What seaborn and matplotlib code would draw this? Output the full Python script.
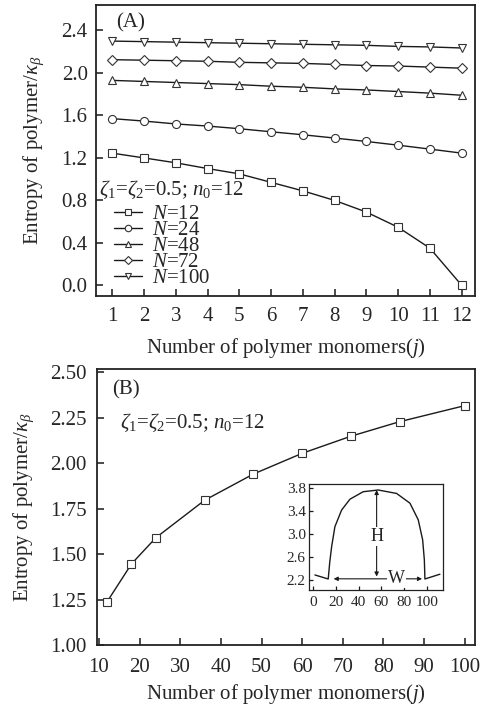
import numpy as np
import pandas as pd
import matplotlib
matplotlib.use("Agg")
import matplotlib.pyplot as plt
import seaborn as sns

# ---------------- data ----------------
j_vals = [1, 2, 3, 4, 5, 6, 7, 8, 9, 10, 11, 12]
S_N12 = [1.245, 1.20, 1.154, 1.10, 1.05, 0.97, 0.89, 0.80, 0.69, 0.547, 0.35, 0.0]
S_N24 = [1.57, 1.547, 1.52, 1.50, 1.475, 1.446, 1.418, 1.387, 1.355, 1.32, 1.283, 1.245]
S_N48 = [1.93, 1.92, 1.91, 1.90, 1.89, 1.875, 1.865, 1.85, 1.84, 1.825, 1.81, 1.79]
S_N72 = [2.125, 2.12, 2.115, 2.11, 2.10, 2.095, 2.09, 2.08, 2.07, 2.065, 2.055, 2.045]
S_N100 = [2.30, 2.295, 2.29, 2.285, 2.28, 2.275, 2.27, 2.265, 2.26, 2.25, 2.245, 2.235]
series_labels = ["12", "24", "48", "72", "100"]
series_markers = ["s", "o", "^", "D", "v"]

N_vals = [12, 18, 24, 36, 48, 60, 72, 84, 100]
S_vals = [1.238, 1.446, 1.59, 1.796, 1.94, 2.054, 2.148, 2.228, 2.316]

inset_x = [1.5, 13.2, 14.5, 16.2, 19.1, 25.0, 32.4, 44.1, 57.3, 73.5, 85.3, 92.6, 96.5, 98.0, 98.5, 111.7]
inset_y = [2.287, 2.217, 2.50, 2.78, 3.13, 3.42, 3.61, 3.74, 3.77, 3.71, 3.54, 3.25, 2.90, 2.55, 2.217, 2.30]

A_yticks = [0.0, 0.4, 0.8, 1.2, 1.6, 2.0, 2.4]
B_xticks = [10, 20, 30, 40, 50, 60, 70, 80, 90, 100]
B_yticks = [1.00, 1.25, 1.50, 1.75, 2.00, 2.25, 2.50]
inset_xticks = [0, 20, 40, 60, 80, 100]
inset_yticks = [2.2, 2.6, 3.0, 3.4, 3.8]

# ---------------- style ----------------
sns.set_style("ticks")
plt.rcParams["font.family"] = ["Liberation Serif", "DejaVu Serif"]
plt.rcParams["mathtext.fontset"] = "custom"
plt.rcParams["mathtext.rm"] = "Liberation Serif"
plt.rcParams["mathtext.it"] = "Liberation Serif:italic"
plt.rcParams["mathtext.bf"] = "Liberation Serif:bold"
plt.rcParams["xtick.direction"] = "in"
plt.rcParams["ytick.direction"] = "in"
plt.rcParams["axes.linewidth"] = 1.3
plt.rcParams["axes.edgecolor"] = "#222222"

FS = 15
INK = "#1a1a1a"

fig = plt.figure(figsize=(4.86, 7.11), dpi=100)
axA = fig.add_axes([0.1975, 0.5837, 0.780, 0.4093])
axB = fig.add_axes([0.199, 0.0928, 0.778, 0.3878])
axI = fig.add_axes([0.6364, 0.1702, 0.2757, 0.1491])

# ---------------- panel A ----------------
seriesA = [S_N12, S_N24, S_N48, S_N72, S_N100]
for vals, lab, mk in zip(seriesA, series_labels, series_markers):
    sns.lineplot(x=j_vals, y=vals, ax=axA, color=INK, linewidth=1.0,
                 marker=mk, markersize=5.8 if mk != "D" else 4.8,
                 markerfacecolor="white", markeredgecolor="#333333",
                 markeredgewidth=0.8, label=r"$N$=" + lab)
axA.set_xlim(0.49, 12.42)
axA.set_ylim(-0.1, 2.64)
axA.set_xticks(j_vals)
axA.set_yticks(A_yticks)
axA.set_yticklabels([f"{v:.1f}" for v in A_yticks])
axA.tick_params(labelsize=FS, length=5, width=1.1, color=INK, pad=6)
axA.tick_params(axis="x", pad=8)
axA.set_xlabel("Number of polymer monomers($j$)", fontsize=FS, labelpad=7)
axA.set_ylabel(r"Entropy of polymer/$\kappa_\beta$", fontsize=FS, labelpad=11)
axA.text(0.053, 0.938, "(A)", transform=axA.transAxes, fontsize=FS,
         ha="left", va="center")
axA.text(0.008, 0.366, r"$\zeta_1$=$\zeta_2$=0.5; $n_0$=12", transform=axA.transAxes,
         fontsize=FS, ha="left", va="center")
axA.legend(loc="upper left", bbox_to_anchor=(0.048, 0.313), frameon=False,
           fontsize=FS, borderpad=0, borderaxespad=0, labelspacing=-0.18,
           handlelength=1.35, handletextpad=0.45, markerscale=0.8)

# ---------------- panel B ----------------
sns.lineplot(x=N_vals, y=S_vals, ax=axB, color=INK, linewidth=1.0,
             marker="s", markersize=5.8, markerfacecolor="white",
             markeredgecolor="#333333", markeredgewidth=0.8)
axB.set_xlim(9.44, 102.5)
axB.set_ylim(1.0, 2.516)
axB.set_xticks(B_xticks)
axB.set_yticks(B_yticks)
axB.set_yticklabels([f"{v:.2f}" for v in B_yticks])
axB.tick_params(labelsize=FS, length=5, width=1.1, color=INK, pad=7)
axB.tick_params(axis="x", pad=9)
axB.set_xlabel("Number of polymer monomers($j$)", fontsize=FS, labelpad=4)
axB.set_ylabel(r"Entropy of polymer/$\kappa_\beta$", fontsize=FS, labelpad=10)
axB.text(0.04, 0.925, "(B)", transform=axB.transAxes, fontsize=FS,
         ha="left", va="center")
axB.text(0.0616, 0.804, r"$\zeta_1$=$\zeta_2$=0.5; $n_0$=12", transform=axB.transAxes,
         fontsize=FS, ha="left", va="center")

# ---------------- inset ----------------
sns.lineplot(x=inset_x, y=inset_y, ax=axI, color=INK, linewidth=1.0, sort=False)
axI.set_xlim(-3.5, 114.7)
axI.set_ylim(2.025, 3.875)
axI.set_xticks(inset_xticks)
axI.set_yticks(inset_yticks)
axI.set_yticklabels([f"{v:.1f}" for v in inset_yticks])
axI.tick_params(labelsize=11, length=3, width=0.9, color=INK, pad=2.5)
axI.tick_params(axis="x", pad=4)
for sp in axI.spines.values():
    sp.set_linewidth(0.9)
axI.annotate("", xy=(55.9, 3.77), xytext=(55.9, 2.26),
             arrowprops=dict(arrowstyle="<|-|>", color=INK, lw=0.8,
                             mutation_scale=6, shrinkA=0, shrinkB=0))
axI.text(55.9, 2.96, "H", fontsize=13, ha="center", va="center",
         bbox=dict(facecolor="white", edgecolor="none", pad=0.5))
axI.annotate("", xy=(18, 2.22), xytext=(96, 2.22),
             arrowprops=dict(arrowstyle="<|-|>", color=INK, lw=0.8,
                             mutation_scale=6, shrinkA=0, shrinkB=0))
axI.text(73.5, 2.22, "W", fontsize=13, ha="center", va="center",
         bbox=dict(facecolor="white", edgecolor="none", pad=0.5))

fig.savefig("out.png", dpi=100)
